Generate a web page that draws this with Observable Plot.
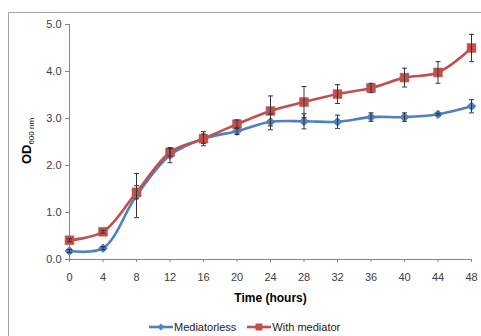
<!DOCTYPE html>
<html>
<head>
<meta charset="utf-8">
<script src="https://cdn.jsdelivr.net/npm/d3@7"></script>
<script src="https://cdn.jsdelivr.net/npm/@observablehq/plot@0.6"></script>
<style>
  html, body { margin: 0; padding: 0; background: #fff; overflow: hidden; }
  #wrap { position: relative; width: 481px; height: 336px; font-family: "Liberation Sans", Arial, sans-serif; }
  #frame { position: absolute; left: 8px; top: 12px; width: 600px; height: 400px; border-left: 1.5px solid #a6a6a6; border-top: 1.5px solid #a6a6a6; }
  #chart { position: absolute; left: 0; top: 0; }
  #chart svg g[aria-label="x-axis label"] text { font-weight: bold; font-size: 12px; fill: #000; }
  #legend { position: absolute; top: 321px; left: 149px; display: flex; gap: 11px; font-size: 11px; color: #222; white-space: nowrap; }
  .item { display: flex; align-items: center; }
  .item svg { margin-right: 1px; }
</style>
</head>
<body>
<div id="wrap">
  <div id="frame"></div>
  <div id="chart"></div>
  <div id="legend"></div>
</div>
<script>
const hours = [0, 4, 8, 12, 16, 20, 24, 28, 32, 36, 40, 44, 48];
const mediatorless = [0.18, 0.24, 1.36, 2.22, 2.57, 2.73, 2.93, 2.94, 2.93, 3.03, 3.03, 3.09, 3.26];
const mediatorlessErr = [0.03, 0.03, 0.47, 0.16, 0.15, 0.07, 0.17, 0.16, 0.14, 0.09, 0.09, 0.02, 0.14];
const withMediator = [0.41, 0.59, 1.43, 2.28, 2.57, 2.88, 3.16, 3.35, 3.52, 3.65, 3.87, 3.98, 4.50];
const withMediatorErr = [0.03, 0.03, 0.14, 0.08, 0.10, 0.09, 0.32, 0.33, 0.20, 0.10, 0.20, 0.23, 0.29];
const seriesNames = ["Mediatorless", "With mediator"];
const seriesColors = ["#4f81bd", "#c0504d"];
const yTicks = [0, 1, 2, 3, 4, 5];
const xLabel = "Time (hours)";
const yLabelMain = "OD";
const yLabelSub = "600 nm";

const rows = [];
hours.forEach((t, i) => {
  rows.push({t, v: mediatorless[i], e: mediatorlessErr[i], s: seriesNames[0]});
});
hours.forEach((t, i) => {
  rows.push({t, v: withMediator[i], e: withMediatorErr[i], s: seriesNames[1]});
});
const blue = rows.filter(d => d.s === seriesNames[0]);
const red = rows.filter(d => d.s === seriesNames[1]);

const cap = {draw(ctx, size) { const w = Math.sqrt(size) / 2; ctx.moveTo(-w, 0); ctx.lineTo(w, 0); }};

const axisGray = "#868686";
const plot = Plot.plot({
  width: 481,
  height: 310,
  marginLeft: 69,
  marginRight: 10,
  marginTop: 24,
  marginBottom: 51,
  style: {fontFamily: "Liberation Sans, Arial, sans-serif", fontSize: "11px", color: "#404040", background: "transparent"},
  x: {domain: [0, 48]},
  y: {domain: [0, 5]},
  marks: [
    Plot.ruleY([0], {stroke: axisGray, strokeWidth: 1}),
    Plot.ruleX([0], {stroke: axisGray, strokeWidth: 1}),
    Plot.axisY({ticks: yTicks, tickFormat: d3.format(".1f"), tickSize: 4, tickPadding: 4, stroke: axisGray, label: null, fontSize: 11}),
    Plot.axisX({ticks: hours, tickFormat: d => String(d), tickSize: 3, tickPadding: 11, stroke: axisGray, label: xLabel, labelAnchor: "center", labelArrow: "none", labelOffset: 42, fontSize: 11}),
    Plot.line(blue, {x: "t", y: "v", stroke: seriesColors[0], strokeWidth: 2.6, curve: "catmull-rom"}),
    Plot.line(red, {x: "t", y: "v", stroke: seriesColors[1], strokeWidth: 2.6, curve: "catmull-rom"}),
    Plot.dot(blue, {x: "t", y: "v", symbol: "diamond2", r: 3.9, fill: seriesColors[0], stroke: seriesColors[0], strokeWidth: 1}),
    Plot.dot(red, {x: "t", y: "v", symbol: "square", r: 5, fill: seriesColors[1], stroke: seriesColors[1], strokeWidth: 0.5}),
    Plot.ruleX(rows, {x: "t", y1: d => d.v - d.e, y2: d => d.v + d.e, stroke: "#333", strokeWidth: 1}),
    Plot.dot(rows, {x: "t", y: d => d.v + d.e, symbol: cap, r: 2.8, stroke: "#333", strokeWidth: 1, fill: "none"}),
    Plot.dot(rows, {x: "t", y: d => d.v - d.e, symbol: cap, r: 2.8, stroke: "#333", strokeWidth: 1, fill: "none"})
  ]
});
document.getElementById("chart").appendChild(plot);

// y-axis label with subscript
const svg = d3.select(plot);
const yl = svg.append("text")
  .attr("transform", "translate(31,141) rotate(-90)")
  .attr("text-anchor", "middle")
  .attr("fill", "#000")
  .style("font-family", "Liberation Sans, Arial, sans-serif");
yl.append("tspan").text(yLabelMain).style("font-weight", "bold").style("font-size", "13px");
yl.append("tspan").text(yLabelSub).attr("dy", 3).style("font-size", "8px");

// legend
const legend = d3.select("#legend");
seriesNames.forEach((name, i) => {
  const item = legend.append("div").attr("class", "item");
  const s = item.append("svg").attr("width", 24).attr("height", 10);
  s.append("line").attr("x1", 0).attr("x2", 24).attr("y1", 5).attr("y2", 5)
    .attr("stroke", seriesColors[i]).attr("stroke-width", 2.6);
  if (i === 0) {
    s.append("path").attr("d", "M12,1.5L15.5,5L12,8.5L8.5,5Z").attr("fill", seriesColors[i]);
  } else {
    s.append("rect").attr("x", 8.5).attr("y", 1.5).attr("width", 7).attr("height", 7).attr("fill", seriesColors[i]);
  }
  item.append("span").text(name);
});
</script>
</body>
</html>
